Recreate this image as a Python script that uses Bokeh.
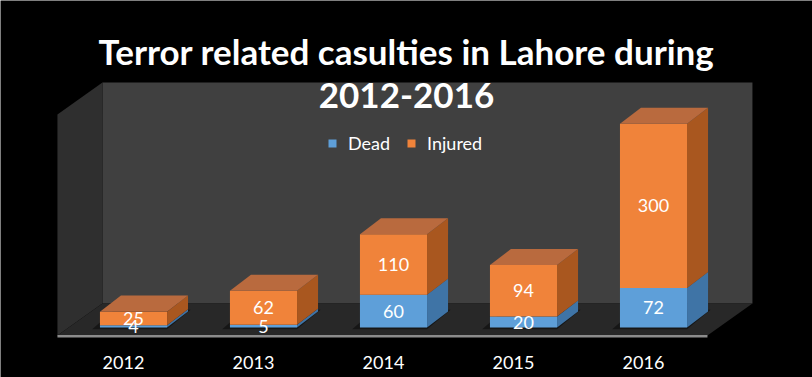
import re
from bokeh.plotting import figure
from bokeh.models import Range1d, Label, Legend, LegendItem
from bokeh.core.properties import value
from bokeh.embed import file_html
from bokeh.resources import INLINE

# ---- data ----
years = ["2012", "2013", "2014", "2015", "2016"]
dead = [4, 5, 60, 20, 72]
injured = [25, 62, 110, 94, 300]
title_lines = ["Terror related casulties in Lahore during", "2012-2016"]

# ---- style / geometry constants ----
FONT = "Lato"
BLUE_FRONT, BLUE_SIDE, BLUE_TOP = "#5E9FD9", "#3F74A6", "#7FB0DE"
OR_FRONT, OR_SIDE, OR_TOP = "#F0833A", "#A9571F", "#B96A3E"
WALL, LWALL, FLOOR, EDGE = "#404040", "#2F2F2F", "#282828", "#8C8C8C"
HW = 0.258              # half width of a bar front (category units)
DX, DY = 0.1615, 29.2   # bar depth offset
FDX, FDY = 0.346, 58.4  # floor depth offset
F_LEFT, F_RIGHT, F_Y = -0.585, 4.415, -14.6
WALL_TOP = 447

W, H = 812, 377
p = figure(width=W, height=H, output_backend="svg", toolbar_location=None,
           x_range=Range1d(-1.023, 5.223), y_range=Range1d(-91.2, 596.7),
           x_axis_type=None, y_axis_type=None, min_border=0)
p.background_fill_color = "#000000"
p.border_fill_color = "#000000"
p.outline_line_color = None
p.grid.visible = False

# walls and floor
p.patch([F_LEFT + FDX, F_RIGHT + FDX, F_RIGHT + FDX, F_LEFT + FDX],
        [F_Y + FDY, F_Y + FDY, WALL_TOP, WALL_TOP], fill_color=WALL, line_color=None)
p.patch([F_LEFT, F_LEFT + FDX, F_LEFT + FDX, F_LEFT],
        [F_Y, F_Y + FDY, WALL_TOP, WALL_TOP - FDY], fill_color=LWALL, line_color=None)
p.patch([F_LEFT, F_RIGHT, F_RIGHT + FDX, F_LEFT + FDX],
        [F_Y, F_Y, F_Y + FDY, F_Y + FDY], fill_color=FLOOR, line_color=None)
p.line([F_LEFT, F_RIGHT], [F_Y - 1.5, F_Y - 1.5], line_color=EDGE, line_width=2.5)

xs = list(range(len(years)))

# shadows on floor
for i in xs:
    p.patch([i - HW - 0.06, i + HW, i + HW + DX + 0.02, i - HW + DX - 0.05],
            [-3, -3, DY + 3, DY + 3], fill_color="#000000", fill_alpha=0.45, line_color=None)

front_renderers = {}
for i, d, inj in zip(xs, dead, injured):
    segs = [(0, d, BLUE_FRONT, BLUE_SIDE, BLUE_TOP, "Dead"),
            (d, d + inj, OR_FRONT, OR_SIDE, OR_TOP, "Injured")]
    for k, (y0, y1, fc, sc, tc, name) in enumerate(segs):
        p.patch([i + HW, i + HW + DX, i + HW + DX, i + HW],
                [y0, y0 + DY, y1 + DY, y1], fill_color=sc, line_color=None)
        r = p.quad(left=i - HW, right=i + HW, bottom=y0, top=y1,
                   fill_color=fc, line_color=None)
        front_renderers.setdefault(name, r)
        if k == len(segs) - 1:
            p.patch([i - HW, i - HW + DX, i + HW + DX, i + HW],
                    [y1, y1 + DY, y1 + DY, y1], fill_color=tc, line_color=None)

# data labels
lab_x, lab_y, lab_t = [], [], []
for i, d, inj in zip(xs, dead, injured):
    lab_x += [i, i]
    lab_y += [d / 2, d + inj / 2]
    lab_t += [str(d), str(inj)]
p.text(x=lab_x, y=lab_y, text=lab_t, text_color="#FFFFFF", text_align="center",
       text_baseline="middle", text_font=value(FONT), text_font_size="18px")

# category labels
p.text(x=[i - 0.077 for i in xs], y=[-64] * len(xs), text=years, text_color="#FFFFFF",
       text_align="center", text_baseline="middle", text_font=value(FONT),
       text_font_size="18px")

# title
for line, yb in zip(title_lines, [327, 282]):
    p.add_layout(Label(x=W / 2, y=yb, x_units="screen", y_units="screen", text=line,
                       text_align="center", text_baseline="alphabetic",
                       text_color="#FFFFFF", text_font=FONT, text_font_size="35px",
                       text_font_style="bold"))

legend = Legend(items=[LegendItem(label="Dead", renderers=[front_renderers["Dead"]]),
                       LegendItem(label="Injured", renderers=[front_renderers["Injured"]])],
                location=(327, 223), orientation="horizontal",
                background_fill_alpha=0, border_line_color=None,
                label_text_color="#FFFFFF", label_text_font=FONT,
                label_text_font_size="18px", glyph_width=10, glyph_height=10,
                label_standoff=11, spacing=16, padding=0, margin=0)
p.add_layout(legend, "center")

html = file_html(p, INLINE)
html = re.sub(r"<body[^>]*>", '<body style="background-color:#000000;margin:0;">', html, count=1)
open("out.html", "w").write(html)
